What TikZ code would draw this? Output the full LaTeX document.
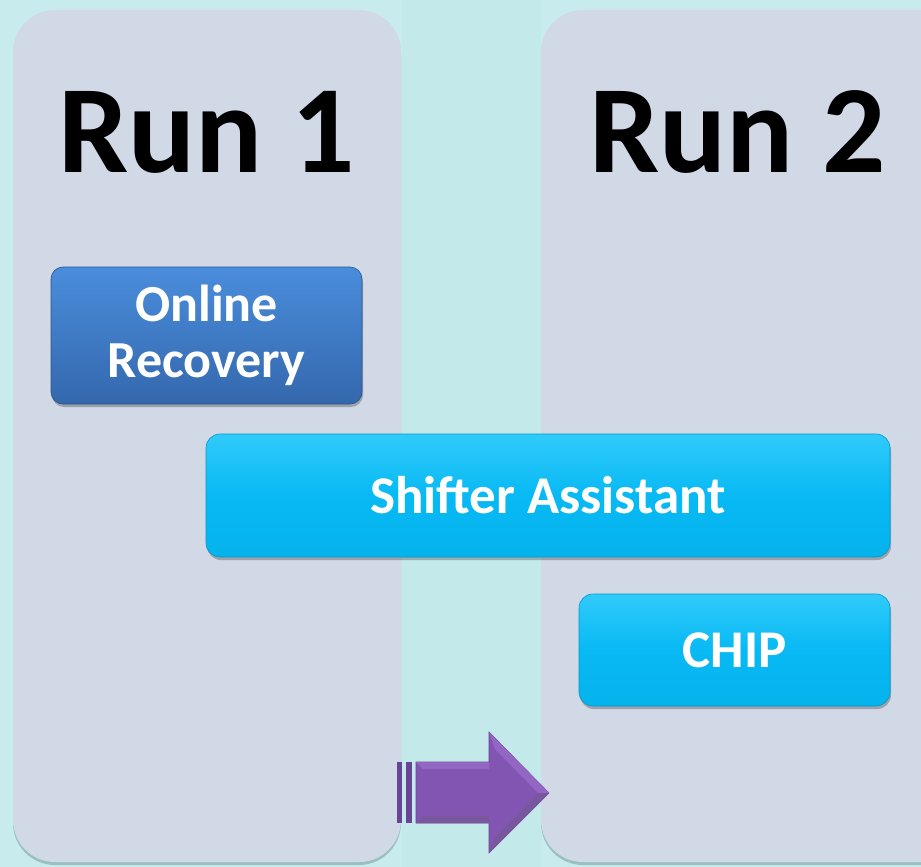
\documentclass[tikz,border=0pt]{standalone}
\usepackage{fontspec}
\setmainfont{Carlito}
\usetikzlibrary{shadows}
\definecolor{bgcyan}{HTML}{C8ECEE}
\definecolor{stripcyan}{HTML}{C3E9EA}
\definecolor{panelfill}{HTML}{D1D8E6}
\definecolor{panelshadow}{HTML}{7FA3A6}
\definecolor{bluetop}{HTML}{4A8DDC}
\definecolor{bluebot}{HTML}{3468AD}
\definecolor{cyantop}{HTML}{30CBFA}
\definecolor{cyanmid}{HTML}{08B9F4}
\definecolor{cyanbot}{HTML}{05B3EC}
\definecolor{purplelight}{HTML}{9466C4}
\definecolor{purplemid}{HTML}{8355B3}
\definecolor{purpledark}{HTML}{6A4494}
\tikzset{
  panel/.style={fill=panelfill, rounded corners=42pt, inner sep=0pt,
    drop shadow={shadow xshift=0pt, shadow yshift=-3pt, fill=panelshadow, opacity=0.6}},
  runlabel/.style={font=\fontsize{125}{130}\selectfont\bfseries, inner sep=0pt, anchor=base},
  bluebox/.style={rounded corners=12pt, top color=bluetop, bottom color=bluebot, draw=bluebot!80!black, line width=0.6pt,
    text=white, font=\fontsize{52}{56}\selectfont\bfseries, align=center, inner sep=0pt,
    drop shadow={shadow xshift=1pt, shadow yshift=-3pt, fill=black, opacity=0.25}},
  cyanbox/.style={rounded corners=14pt, top color=cyantop, bottom color=cyanbot, middle color=cyanmid, draw=cyanbot!85!black, line width=0.6pt,
    text=white, font=\fontsize{53}{56}\selectfont\bfseries, inner sep=0pt,
    drop shadow={shadow xshift=1pt, shadow yshift=-3pt, fill=black, opacity=0.25}},
}
\begin{document}
\begin{tikzpicture}[x=1pt,y=-1pt]
\useasboundingbox (0,0) rectangle (921,867);
\clip (0,0) rectangle (921,867);
% background
\fill[bgcyan] (0,0) rectangle (921,867);
\fill[stripcyan] (402,0) rectangle (541,867);
% panels
\node[panel, minimum width=388pt, minimum height=852pt] (p1) at (207,436) {};
\node[panel, minimum width=440pt, minimum height=852pt] (p2) at (761,436) {};
% run labels
\node[runlabel] (run1) at (206.5,172) {Run 1};
\node[runlabel] (run2) at (737.5,172) {Run 2};
% boxes
\node[bluebox, minimum width=311pt, minimum height=137pt] (online) at (206.5,335.5) {Online\\Recovery};
\node[cyanbox, minimum width=684pt, minimum height=123pt] (shifter) at (548,495.5) {Shifter Assistant};
\node[cyanbox, minimum width=311pt, minimum height=112pt] (chip) at (734.5,650) {CHIP};
% arrow
\fill[purpledark] (397,762) rectangle (402,823);
\fill[purpledark] (406,762) rectangle (412,823);
\fill[purplemid, draw=purpledark, line width=0.6pt]
  (416,762) -- (489,762) -- (489,732) -- (549,793) -- (489,853) -- (489,823) -- (416,823) -- cycle;
\fill[purplelight] (416,762) -- (489,762) -- (489,769) -- (423,769) -- cycle;
\fill[purpledark!90] (416,823) -- (489,823) -- (489,816) -- (423,816) -- cycle;
\fill[purplelight] (489,732) -- (549,793) -- (538,793) -- (495,749) -- cycle;
\fill[purpledark!90] (489,853) -- (549,793) -- (538,793) -- (495,837) -- cycle;
\end{tikzpicture}
\end{document}
